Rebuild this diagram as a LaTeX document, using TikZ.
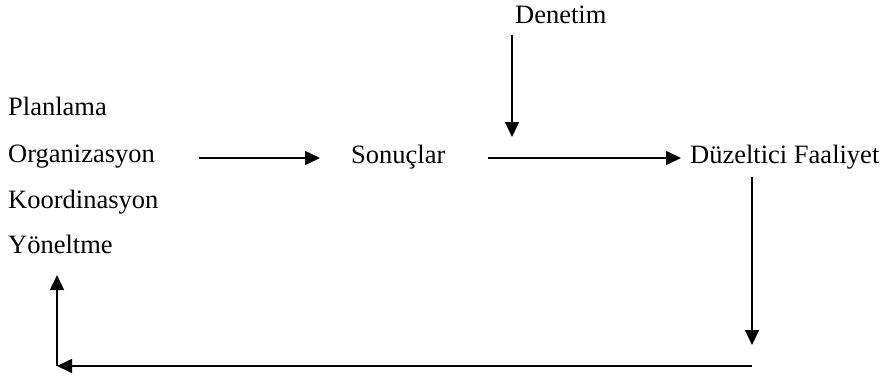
\documentclass[tikz,border=0pt]{standalone}
\usepackage{fontspec}
\setmainfont{Liberation Serif}
\usetikzlibrary{arrows.meta}
\begin{document}
\begin{tikzpicture}[x=1pt,y=-1pt,
  lbl/.style={anchor=base west,inner sep=0pt,font=\fontsize{26.5}{30}\selectfont},
  conn/.style={line width=1.5pt,-{Triangle[length=15pt,width=14pt]}},
  plain/.style={line width=1.5pt}]
\useasboundingbox (0,0) rectangle (893,377);
\node[lbl] (pla) at (8,116) {Planlama};
\node[lbl] (org) at (8,162) {Organizasyon};
\node[lbl] (koo) at (8,208) {Koordinasyon};
\node[lbl] (yon) at (8,253) {Yöneltme};
\node[lbl] (son) at (351,163) {Sonuçlar};
\node[lbl] (den) at (515,24) {Denetim};
\node[lbl] (duz) at (690,163) {Düzeltici Faaliyet};
\coordinate (a1s) at (199,158);
\coordinate (a1e) at (320,158);
\coordinate (a2s) at (488,158);
\coordinate (a2e) at (681,158);
\coordinate (dens) at (512,35);
\coordinate (dene) at (512,137);
\coordinate (rs) at (752,177);
\coordinate (re) at (752,345);
\coordinate (br) at (752,366);
\coordinate (bl) at (57,366);
\coordinate (lt) at (57,275);
\draw[conn] (a1s) -- (a1e);
\draw[conn] (a2s) -- (a2e);
\draw[conn] (dens) -- (dene);
\draw[conn] (rs) -- (re);
\draw[conn] (br) -- (bl);
\draw[conn] (bl) -- (lt);
\end{tikzpicture}
\end{document}
